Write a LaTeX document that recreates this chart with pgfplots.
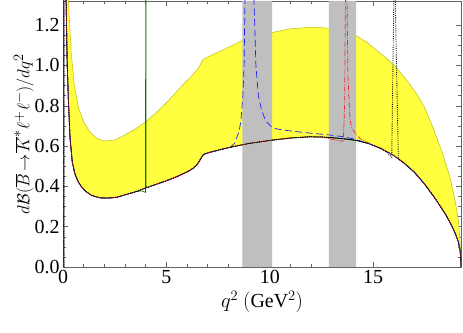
\documentclass[border=0pt]{standalone}
\usepackage{fontspec}
\setmainfont{Liberation Serif}
\usepackage{pgfplots}
\pgfplotsset{compat=1.18}
\usepackage{pgfplotstable}
\usepgfplotslibrary{fillbetween}

\definecolor{bandyellow}{RGB}{255,255,64}
\definecolor{bandedge}{RGB}{196,196,40}
\definecolor{vetogray}{RGB}{191,191,191}
\definecolor{frame}{RGB}{100,100,100}
\definecolor{cblue}{RGB}{30,30,255}
\definecolor{cred}{RGB}{240,40,40}
\definecolor{cgreen}{RGB}{0,130,0}

% Standard Model curve (lower edge of band)
\pgfplotstableread{
x y
0.04 0
0.045 3
0.15 1.32
0.2 1.02
0.26 0.83
0.34 0.64
0.45 0.52
0.58 0.46
0.75 0.42
0.9 0.397
1.1 0.375
1.39 0.355
1.8 0.343
2.2 0.342
2.6 0.346
3.0 0.358
3.5 0.373
4.0 0.392
4.5 0.41
5.0 0.428
5.5 0.448
6.0 0.472
6.3 0.49
6.5 0.51
6.65 0.535
6.75 0.553
6.85 0.561
7.1 0.569
7.6 0.582
8.08 0.594
8.6 0.605
9.05 0.614
10.0 0.628
11.0 0.64
11.9 0.646
12.5 0.645
13.0 0.642
13.6 0.636
14.2 0.628
14.8 0.612
15.4 0.587
16.0 0.553
16.5 0.515
17.0 0.47
17.5 0.41
18.0 0.34
18.5 0.262
18.8 0.205
19.0 0.16
19.12 0.125
19.2 0.085
19.235 0.05
19.25 0
}\smtab

% Upper edge of band
\pgfplotstableread{
x y
0.045 3
0.2 1.6
0.26 1.32
0.4 1.06
0.55 0.9
0.75 0.79
1.0 0.72
1.3 0.67
1.6 0.64
2.0 0.625
2.5 0.63
3.0 0.655
3.5 0.685
4.0 0.72
4.5 0.765
5.0 0.815
5.5 0.87
5.9 0.915
6.2 0.945
6.45 0.975
6.6 0.995
6.72 1.02
6.78 1.03
7.0 1.042
7.8 1.08
8.7 1.125
9.5 1.15
10.1 1.163
11.0 1.182
12.0 1.19
12.9 1.185
13.6 1.17
14.2 1.147
14.7 1.115
15.2 1.073
15.6 1.04
16.03 1.0
16.6 0.93
17.1 0.86
17.5 0.79
17.9 0.69
18.3 0.58
18.72 0.446
19.0 0.31
19.12 0.23
19.2 0.13
19.25 0
}\uptab

\begin{document}
\begin{tikzpicture}
\begin{axis}[
  at={(0,0)}, anchor=south west,
  scale only axis, width=398bp, height=266bp,
  xmin=0, xmax=19.25, ymin=0, ymax=1.32,
  xtick={0,5,10,15}, minor x tick num=4,
  ytick={0,0.2,0.4,0.6,0.8,1.0,1.2}, minor y tick num=3,
  yticklabel style={/pgf/number format/.cd, fixed, fixed zerofill, precision=1},
  tick align=inside, tick pos=both,
  xticklabel pos=bottom, yticklabel pos=left,
  major tick length=5bp, minor tick length=3bp,
  axis line style={frame, line width=0.6pt},
  every tick/.style={frame, line width=0.5pt},
  tick label style={font=\fontsize{20}{20}\selectfont, black},
  xlabel style={font=\fontsize{20}{22}\selectfont},
  ylabel style={font=\fontsize{19}{21}\selectfont, yshift=-6bp},
  /pgf/number format/assume math mode=true,
  xlabel={$q^2$ $\bigl($GeV$^2\bigr)$},
  ylabel={$d\mathcal{B}(\overline{B}\!\to\!\overline{K}^{*}\ell^{+}\ell^{-})/dq^2$},
  clip=true,
]
% band
\addplot[draw=none, name path=up, forget plot] table {\uptab};
\addplot[draw=none, name path=sm, forget plot] table {\smtab};
\addplot[fill=bandyellow, draw=none] fill between[of=up and sm];
\addplot[draw=bandedge, line width=0.6pt] table {\uptab};
% vetoed regions
\addplot[fill=vetogray, draw=none] coordinates {(8.68,0)(8.68,1.32)(10.11,1.32)(10.11,0)} \closedcycle;
\addplot[fill=vetogray, draw=none] coordinates {(12.86,0)(12.86,1.32)(14.18,1.32)(14.18,0)} \closedcycle;
% green solid
\addplot[cgreen, line width=0.7pt] table[restrict x to domain=0:3.5] {\smtab};
\addplot[cgreen, line width=0.7pt] coordinates {(3.5,0.373)(3.8,0.378)(3.95,0.372)(3.99,0.37)(4.0,1.5)(4.005,3)(4.01,1.5)(4.02,0.4)(4.1,0.395)(4.5,0.41)};
\addplot[cgreen, line width=0.7pt] table[restrict x to domain=4.5:20] {\smtab};
% SM black solid
\addplot[black, line width=0.7pt] table {\smtab};
% blue dashed
\addplot[cblue, line width=0.7pt, dash pattern=on 7pt off 3.5pt] table[restrict x to domain=0:8.08] {\smtab};
\addplot[cblue, line width=0.7pt, dash pattern=on 7pt off 3.5pt] coordinates {(8.08,0.594)(8.3,0.613)(8.5,0.668)(8.6,0.72)(8.7,0.85)(8.76,1.0)(8.8,1.32)(8.9,2.2)(9.05,3.5)(9.2,2.0)(9.24,1.32)(9.33,1.0)(9.45,0.85)(9.6,0.78)(9.8,0.725)(10.1,0.693)(10.4,0.684)(11.0,0.675)(12.0,0.664)(12.9,0.655)(13.6,0.646)(14.2,0.632)(14.8,0.612)};
\addplot[cblue, line width=0.7pt, dash pattern=on 7pt off 3.5pt] table[restrict x to domain=14.8:20] {\smtab};
% red dash-dot
\addplot[cred, line width=0.7pt, dash pattern=on 5pt off 1.5pt on 1pt off 1.5pt] table[restrict x to domain=0:12.5] {\smtab};
\addplot[cred, line width=0.7pt, dash pattern=on 5pt off 1.5pt on 1pt off 1.5pt] coordinates {(12.5,0.645)(12.8,0.638)(13.1,0.632)(13.4,0.625)(13.56,0.625)(13.62,0.8)(13.66,1.32)(13.7,3)(13.74,1.32)(13.78,0.95)(13.88,0.73)(13.97,0.69)(14.13,0.665)(14.37,0.637)(14.8,0.615)(15.4,0.587)};
\addplot[cred, line width=0.7pt, dash pattern=on 5pt off 1.5pt on 1pt off 1.5pt] table[restrict x to domain=15.4:20] {\smtab};
% black dotted
\addplot[black, line width=0.9pt, dash pattern=on 0.9pt off 1.3pt] table[restrict x to domain=0:15.4] {\smtab};
\addplot[black, line width=0.9pt, dash pattern=on 0.9pt off 1.3pt] coordinates {(15.4,0.587)(15.7,0.566)(15.9,0.545)(16.0,1.32)(16.02,3)(16.05,3)(16.07,1.32)(16.22,0.537)(16.5,0.515)};
\addplot[black, line width=0.9pt, dash pattern=on 0.9pt off 1.3pt] table[restrict x to domain=16.5:20] {\smtab};
\end{axis}
\pgfresetboundingbox
\path[use as bounding box] (-63bp,-66bp) rectangle (400bp,267bp);
\end{tikzpicture}
\end{document}
